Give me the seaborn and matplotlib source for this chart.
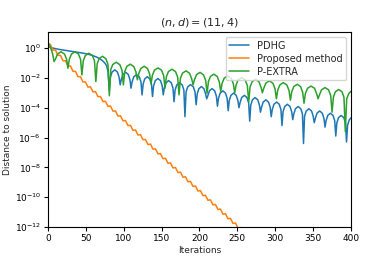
import numpy as np
import pandas as pd
import seaborn as sns
from matplotlib import pyplot as plt

# values, y given as log10(distance)
pdhg_it = [0, 5, 10, 15, 20, 25, 30, 35, 40, 45, 50, 55, 60, 64, 68, 72, 75, 77.5, 79.3, 81,
           82.4, 84.6, 88.2, 91.7, 93.9, 95.3,
           96.7, 98.9, 102.5, 106, 108.2, 109.6,
           111, 113.2, 116.9, 120.6, 122.8, 124.2,
           125.6, 127.7, 131.1, 134.5, 136.6, 138,
           139.4, 141.6, 145.1, 148.6, 150.8, 152.2,
           153.6, 155.8, 159.3, 162.8, 165, 166.4,
           167.8, 170, 173.6, 177.2, 179.4, 180.8,
           182.3, 184.5, 188.2, 191.9, 194.1, 195.6,
           197, 199.1, 202.5, 205.9, 208.1, 209.5,
           210.9, 213.1, 216.6, 220.1, 222.3, 223.7,
           225.1, 227.3, 230.8, 234.3, 236.5, 237.9,
           239.3, 241.5, 245, 248.5, 250.7, 252.1,
           253.5, 255.7, 259.2, 262.7, 264.9, 266.3,
           267.7, 269.9, 273.4, 276.9, 279.1, 280.5,
           281.9, 284.1, 287.6, 291.1, 293.3, 294.7,
           296.1, 298.3, 301.8, 305.3, 307.5, 308.9,
           310.3, 312.5, 316, 319.5, 321.7, 323.1,
           324.5, 326.7, 330.2, 333.7, 335.9, 337.3,
           338.7, 340.9, 344.4, 347.9, 350.1, 351.5,
           352.9, 355.1, 358.6, 362.1, 364.3, 365.7,
           367.1, 369.3, 372.8, 376.3, 378.5, 379.9,
           381.3, 383.5, 387, 390.5, 392.7, 394.1,
           395.5, 397.7, 400]
pdhg_log = [0.1, 0.02, -0.04, -0.09, -0.13, -0.17, -0.21, -0.25, -0.29, -0.33, -0.38, -0.44, -0.52, -0.6, -0.7, -0.85, -1.0, -1.2, -1.6, -2.85,
            -1.96, -1.61, -1.46, -1.61, -1.96, -2.47,
            -2.12, -1.77, -1.62, -1.77, -2.12, -2.69,
            -2.28, -1.93, -1.78, -1.93, -2.28, -3.14,
            -2.42, -2.07, -1.92, -2.07, -2.42, -3.25,
            -2.54, -2.19, -2.04, -2.19, -2.54, -3.14,
            -2.68, -2.33, -2.18, -2.33, -2.68, -3.6,
            -2.82, -2.47, -2.32, -2.47, -2.82, -4.6,
            -2.95, -2.6, -2.45, -2.6, -2.95, -3.8,
            -3.08, -2.73, -2.58, -2.73, -3.08, -3.4,
            -3.22, -2.87, -2.72, -2.87, -3.22, -3.9,
            -3.37, -3.02, -2.87, -3.02, -3.37, -4.2,
            -3.52, -3.17, -3.02, -3.17, -3.52, -4.0,
            -3.67, -3.32, -3.17, -3.32, -3.67, -4.9,
            -3.82, -3.47, -3.32, -3.47, -3.82, -4.3,
            -3.97, -3.62, -3.47, -3.62, -3.97, -4.6,
            -4.12, -3.77, -3.62, -3.77, -4.12, -5.2,
            -4.27, -3.92, -3.77, -3.92, -4.27, -4.8,
            -4.42, -4.07, -3.92, -4.07, -4.42, -6.4,
            -4.57, -4.22, -4.07, -4.22, -4.57, -5.0,
            -4.72, -4.37, -4.22, -4.37, -4.72, -5.3,
            -4.87, -4.52, -4.37, -4.52, -4.87, -5.9,
            -5.02, -4.67, -4.52, -4.67, -5.02, -6.3,
            -5.17, -4.82, -4.68]

prop_it = [0, 3.3, 6.6, 9.9, 13.2, 16.5, 19.8, 23.1, 26.4, 29.7,
           33.0, 36.3, 39.6, 42.9, 46.2, 49.5, 52.8, 56.1, 59.4, 62.7,
           66.0, 69.3, 72.6, 75.9, 79.2, 82.5, 85.8, 89.1, 92.4, 95.7,
           99.0, 102.3, 105.6, 108.9, 112.2, 115.5, 118.8, 122.1, 125.4, 128.7,
           132.0, 135.3, 138.6, 141.9, 145.2, 148.5, 151.8, 155.1, 158.4, 161.7,
           165.0, 168.3, 171.6, 174.9, 178.2, 181.5, 184.8, 188.1, 191.4, 194.7,
           198.0, 201.3, 204.6, 207.9, 211.2, 214.5, 217.8, 221.1, 224.4, 227.7,
           231.0, 234.3, 237.6, 240.9, 244.2, 247.5, 250.8, 254.1, 257.4]
prop_log = [0.34, 0.22, -0.14, -0.13, -0.49, -0.49, -0.85, -0.85, -1.21, -1.20,
            -1.56, -1.56, -1.92, -1.92, -2.27, -2.27, -2.62, -2.60, -2.94, -2.92,
            -3.26, -3.25, -3.59, -3.57, -3.91, -3.89, -4.23, -4.22, -4.56, -4.54,
            -4.88, -4.86, -5.20, -5.18, -5.52, -5.49, -5.83, -5.81, -6.15, -6.13,
            -6.47, -6.44, -6.78, -6.76, -7.10, -7.08, -7.42, -7.39, -7.73, -7.70,
            -8.04, -8.01, -8.35, -8.32, -8.66, -8.63, -8.97, -8.94, -9.28, -9.25,
            -9.59, -9.56, -9.90, -9.87, -10.21, -10.18, -10.52, -10.49, -10.83, -10.80,
            -11.14, -11.11, -11.45, -11.42, -11.76, -11.73, -12.07, -12.04, -12.38]

extra_it = [0, 3, 6, 8,
            9.8, 12.6, 17.2, 21.8, 24.6, 26.4,
            28.2, 31, 35.6, 40.2, 43, 44.8,
            46.6, 49.4, 54, 58.6, 61.4, 63.2,
            65, 67.7, 72.1, 76.5, 79.2, 81,
            82.8, 85.6, 90.2, 94.9, 97.7, 99.5,
            101.3, 104.1, 108.7, 113.4, 116.2, 118,
            119.8, 122.5, 127, 131.5, 134.2, 136,
            137.8, 140.6, 145.2, 149.9, 152.7, 154.5,
            156.3, 159.1, 163.7, 168.4, 171.2, 173,
            174.8, 177.6, 182.2, 186.9, 189.7, 191.5,
            193.3, 196.1, 200.7, 205.4, 208.2, 210,
            211.8, 214.5, 219, 223.5, 226.2, 228,
            229.8, 232.6, 237.2, 241.9, 244.7, 246.5,
            248.3, 251.1, 255.7, 260.4, 263.2, 265,
            266.8, 269.5, 274, 278.5, 281.2, 283,
            284.8, 287.6, 292.2, 296.9, 299.7, 301.5,
            303.3, 306.1, 310.7, 315.4, 318.2, 320,
            321.8, 324.5, 329, 333.5, 336.2, 338,
            339.8, 342.6, 347.2, 351.9, 354.7, 356.5,
            358.3, 361.1, 365.7, 370.4, 373.2, 375,
            376.8, 379.4, 383.7, 388.1, 390.7, 392.5,
            394.3, 397.1, 400]
extra_log = [0.34, 0.1, -0.35, -0.9,
             -0.75, -0.4, -0.25, -0.4, -0.75, -1.35,
             -0.75, -0.4, -0.25, -0.4, -0.75, -1.8,
             -0.85, -0.5, -0.35, -0.5, -0.85, -2.25,
             -1.05, -0.7, -0.55, -0.72, -1.1, -3.2,
             -1.45, -1.1, -0.95, -1.12, -1.48, -2.47,
             -1.58, -1.23, -1.08, -1.25, -1.62, -2.13,
             -1.72, -1.37, -1.22, -1.38, -1.75, -2.4,
             -1.83, -1.48, -1.33, -1.48, -1.85, -2.69,
             -1.92, -1.57, -1.42, -1.58, -1.95, -3.14,
             -2.03, -1.68, -1.53, -1.69, -2.06, -2.47,
             -2.13, -1.78, -1.63, -1.8, -2.18, -3.03,
             -2.25, -1.9, -1.75, -1.91, -2.28, -2.9,
             -2.37, -2.02, -1.87, -2.02, -2.4, -3.0,
             -2.48, -2.13, -1.98, -2.14, -2.52, -3.6,
             -2.6, -2.25, -2.1, -2.26, -2.62, -3.0,
             -2.7, -2.35, -2.2, -2.36, -2.73, -3.4,
             -2.82, -2.47, -2.32, -2.48, -2.85, -3.5,
             -2.93, -2.58, -2.43, -2.59, -2.96, -3.7,
             -3.05, -2.7, -2.55, -2.7, -3.07, -3.4,
             -3.15, -2.8, -2.65, -2.8, -3.18, -4.3,
             -3.28, -2.93, -2.78, -2.93, -3.3, -5.6,
             -3.4, -3.05, -2.9]

sns.set_style("ticks")
plt.rcParams["font.family"] = ["DejaVu Sans"]
plt.rcParams["font.size"] = 7

fig, ax = plt.subplots(figsize=(3.9, 2.6), dpi=100)
fig.subplots_adjust(left=0.123, right=0.9, top=0.877, bottom=0.127)

sns.lineplot(x=pdhg_it, y=10.0 ** np.array(pdhg_log), ax=ax, color="#1f77b4", lw=1.1, label="PDHG")
sns.lineplot(x=prop_it, y=10.0 ** np.array(prop_log), ax=ax, color="#ff7f0e", lw=1.1, label="Proposed method")
sns.lineplot(x=extra_it, y=10.0 ** np.array(extra_log), ax=ax, color="#2ca02c", lw=1.1, label="P-EXTRA")

ax.set_yscale("log")
ax.set_xlim(0, 400)
ax.set_ylim(1e-12, 12)
ax.set_xticks(range(0, 401, 50))
ax.set_yticks([10.0 ** k for k in range(0, -13, -2)])
ax.tick_params(labelsize=6.5, length=3, width=0.8, colors="black", pad=2)
for s in ax.spines.values():
    s.set_color("black")
    s.set_linewidth(0.8)
ax.set_xlabel("Iterations", fontsize=6.5, labelpad=2)
ax.set_ylabel("Distance to solution", fontsize=6.5, labelpad=1)
ax.yaxis.set_label_coords(-0.12, 0.5)
ax.set_title("$(n, d) = (11, 4)$", fontsize=8, pad=5)
ax.legend(loc="upper right", fontsize=7, handlelength=2.0, borderpad=0.4, labelspacing=0.3)

fig.savefig("out.png", dpi=100)
